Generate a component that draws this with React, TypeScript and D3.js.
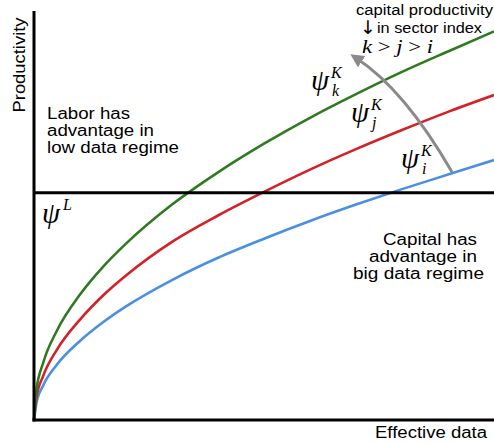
import React from "react";
import * as d3 from "d3";

const xs = [0, 0.05, 0.2, 0.5, 1, 1.5, 2, 3, 4, 5, 6, 7, 8, 9, 10];
const greenK = [0, 0.64, 1.26, 1.97, 2.76, 3.37, 3.88, 4.74, 5.45, 6.08, 6.65, 7.17, 7.66, 8.11, 8.55];
const redJ = [0, 0.48, 0.97, 1.55, 2.21, 2.74, 3.18, 3.92, 4.5, 5.02, 5.51, 5.96, 6.38, 6.78, 7.15];
const blueI = [0, 0.36, 0.76, 1.22, 1.74, 2.15, 2.5, 3.08, 3.57, 3.99, 4.38, 4.74, 5.08, 5.4, 5.72];
const laborLevel = 5;

const W = 494;
const H = 444;

export default function App() {
  const x = d3.scaleLinear().domain([0, 10]).range([34, 494]);
  const y = d3.scaleLinear().domain([0, 9]).range([420, 11]);
  const line = d3
    .line<[number, number]>()
    .x((d) => x(d[0]))
    .y((d) => y(d[1]))
    .curve(d3.curveMonotoneX);

  const series = [
    { vals: blueI, color: "#4a8fe2" },
    { vals: redJ, color: "#d42027" },
    { vals: greenK, color: "#2f7a20" },
  ];

  const sans = "'Liberation Sans', Arial, Helvetica, sans-serif";
  const serif = "'Liberation Serif', 'Times New Roman', serif";

  const psi = (px: number, py: number, sub: string) => (
    <g fontFamily={serif} fontStyle="italic">
      <text x={px} y={py} fontSize={29}>
        ψ
      </text>
      <text x={px + 20} y={py - 12} fontSize={16}>
        K
      </text>
      <text x={px + 21} y={py + 6} fontSize={16}>
        {sub}
      </text>
    </g>
  );

  const ax = [452, 172];
  const ctrl = [404, 89];
  const tip = [356, 58];

  return (
    <svg
      width={W}
      height={H}
      style={{ position: "absolute", left: 0, top: 0, background: "#fff" }}
    >
      <defs>
        <marker
          id="ah"
          viewBox="0 0 10 10"
          refX="5"
          refY="5"
          markerWidth="4.5"
          markerHeight="4.5"
          orient="auto"
        >
          <path d="M0,0 L10,5 L0,10 z" fill="#8a8a8a" />
        </marker>
      </defs>
      {series.map((s, i) => (
        <path
          key={i}
          d={line(xs.map((v, k) => [v, s.vals[k]]) as [number, number][]) || ""}
          fill="none"
          stroke={s.color}
          strokeWidth={2.6}
        />
      ))}
      {/* labor horizontal */}
      <line x1={x(0)} x2={x(10)} y1={y(laborLevel)} y2={y(laborLevel)} stroke="#000" strokeWidth={3} />
      {/* axes */}
      <line x1={x(0)} x2={x(0)} y1={y(9)} y2={y(0) + 1.5} stroke="#000" strokeWidth={3} />
      <line x1={x(0) - 1.5} x2={x(10)} y1={y(0)} y2={y(0)} stroke="#000" strokeWidth={3} />

      {/* arrow */}
      <path
        d={`M${ax[0]},${ax[1]} Q${ctrl[0]},${ctrl[1]} ${tip[0]},${tip[1]}`}
        fill="none"
        stroke="#8a8a8a"
        strokeWidth={3}
        markerEnd="url(#ah)"
      />

      {/* axis titles */}
      <text
        transform="translate(25,65) rotate(-90)"
        textAnchor="middle"
        fontFamily={sans}
        fontSize={16}
        textLength={95}
        lengthAdjust="spacingAndGlyphs"
      >
        Productivity
      </text>
      <text x={375} y={438} fontFamily={sans} fontSize={16} textLength={112} lengthAdjust="spacingAndGlyphs">
        Effective data
      </text>

      {/* regime texts */}
      <g fontFamily={sans} fontSize={16}>
        <text x={47} y={119} textLength={83} lengthAdjust="spacingAndGlyphs">Labor has</text>
        <text x={47} y={136} textLength={107} lengthAdjust="spacingAndGlyphs">advantage in</text>
        <text x={47} y={153} textLength={132} lengthAdjust="spacingAndGlyphs">low data regime</text>
        <text x={383} y={245} textLength={94} lengthAdjust="spacingAndGlyphs">Capital has</text>
        <text x={369} y={262} textLength={108} lengthAdjust="spacingAndGlyphs">advantage in</text>
        <text x={353} y={279} textLength={131} lengthAdjust="spacingAndGlyphs">big data regime</text>
      </g>

      {/* top annotation */}
      <g fontFamily={sans} fontSize={14}>
        <text x={356} y={15} textLength={137} lengthAdjust="spacingAndGlyphs">capital  productivity</text>
        <text x={360} y={34} fontSize={19} fontFamily="'DejaVu Sans', sans-serif">↓</text>
        <text x={377} y={33} textLength={105} lengthAdjust="spacingAndGlyphs">in sector index</text>
      </g>
      <text x={362} y={53} fontFamily={serif} fontSize={19} textLength={71} lengthAdjust="spacingAndGlyphs">
        <tspan fontStyle="italic">k</tspan> &gt; <tspan fontStyle="italic">j</tspan> &gt;{" "}
        <tspan fontStyle="italic">i</tspan>
      </text>

      {/* psi labels */}
      {psi(311, 90, "k")}
      {psi(351, 122, "j")}
      {psi(401, 168, "i")}
      <g fontFamily={serif} fontStyle="italic">
        <text x={42} y={223} fontSize={29}>
          ψ
        </text>
        <text x={63} y={210} fontSize={16}>
          L
        </text>
      </g>
    </svg>
  );
}
